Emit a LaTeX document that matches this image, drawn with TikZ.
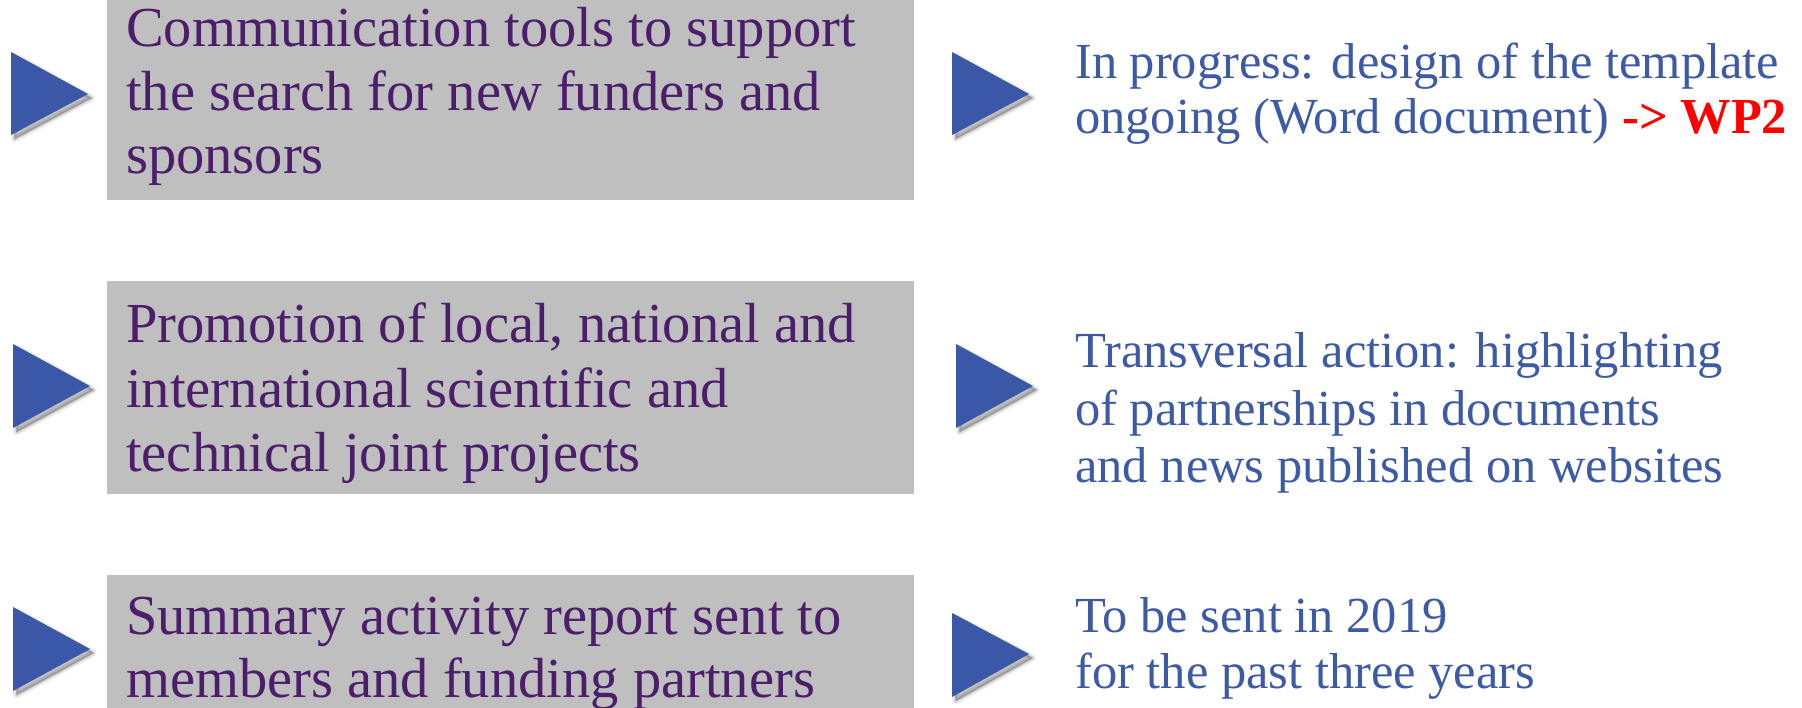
\documentclass[tikz,border=0pt]{standalone}
\usepackage{fontspec}
\setmainfont{Liberation Serif}
\definecolor{boxgray}{HTML}{BFBFBF}
\definecolor{boxtext}{HTML}{4B1D6B}
\definecolor{righttext}{HTML}{3D5AA7}
\definecolor{tri}{HTML}{3B58A8}
\definecolor{wpred}{HTML}{FF0000}
\begin{document}
\begin{tikzpicture}[x=1pt,y=1pt,
  graybox/.style={fill=boxgray, draw=none, inner sep=0pt, anchor=north west, minimum width=807pt},
  lefttxt/.style={anchor=base west, inner sep=0pt, text=boxtext, font=\fontsize{56.5}{64}\selectfont},
  righttxt/.style={anchor=base west, inner sep=0pt, text=righttext, font=\fontsize{50.5}{56}\selectfont},
  pointer/.style={fill=tri, draw=none},
  softshade/.style={draw=black, fill=black, line join=round, opacity=#1}]
\useasboundingbox (0,0) rectangle (1802,-708);
\fill[white] (0,0) rectangle (1802,-708);

% gray boxes
\node[graybox, minimum height=200pt] (box1) at (107,0) {};
\node[graybox, minimum height=213pt] (box2) at (107,-281) {};
\node[graybox, minimum height=133pt] (box3) at (107,-575) {};

% box texts
\node[lefttxt] (l1a) at (126,-47) {Communication tools to support};
\node[lefttxt] (l1b) at (126,-111) {the search for new funders and};
\node[lefttxt] (l1c) at (126,-174) {sponsors};

\node[lefttxt] (l2a) at (126,-343) {Promotion of local, national and};
\node[lefttxt] (l2b) at (126,-407) {international scientific and};
\node[lefttxt] (l2c) at (126,-471) {technical joint projects};

\node[lefttxt] (l3a) at (126,-634) {Summary activity report sent to};
\node[lefttxt] (l3b) at (126,-697) {members and funding partners};

% right texts
\node[righttxt] (r1a) at (1075,-79) {In progress: design of the template};
\node[righttxt] (r1b) at (1075,-134) {ongoing (Word document) {\color{wpred}\bfseries -> WP2}};

\node[righttxt] (r2a) at (1075,-368) {Transversal action: highlighting};
\node[righttxt] (r2b) at (1075,-425) {of partnerships in documents};
\node[righttxt] (r2c) at (1075,-482) {and news published on websites};

\node[righttxt] (r3a) at (1075,-632) {To be sent in 2019};
\node[righttxt] (r3b) at (1075,-688) {for the past three years};

% pointers with soft shadows
\foreach \lx/\ty/\by/\tx/\my in {11/-52/-135/88/-94, 13/-344/-428/90/-386, 13/-607/-691/90/-649,
                                  952/-52/-135/1029/-94, 956/-344/-428/1033/-386, 952/-613/-697/1029/-654}{
  \begin{scope}[shift={(3.5,-4)}]
    \path[softshade=0.06, line width=7pt] (\lx,\ty) -- (\lx,\by) -- (\tx,\my) -- cycle;
    \path[softshade=0.08, line width=4pt] (\lx,\ty) -- (\lx,\by) -- (\tx,\my) -- cycle;
    \path[softshade=0.12, line width=1.5pt] (\lx,\ty) -- (\lx,\by) -- (\tx,\my) -- cycle;
  \end{scope}
  \fill[pointer] (\lx,\ty) -- (\lx,\by) -- (\tx,\my) -- cycle;
}
\end{tikzpicture}
\end{document}
